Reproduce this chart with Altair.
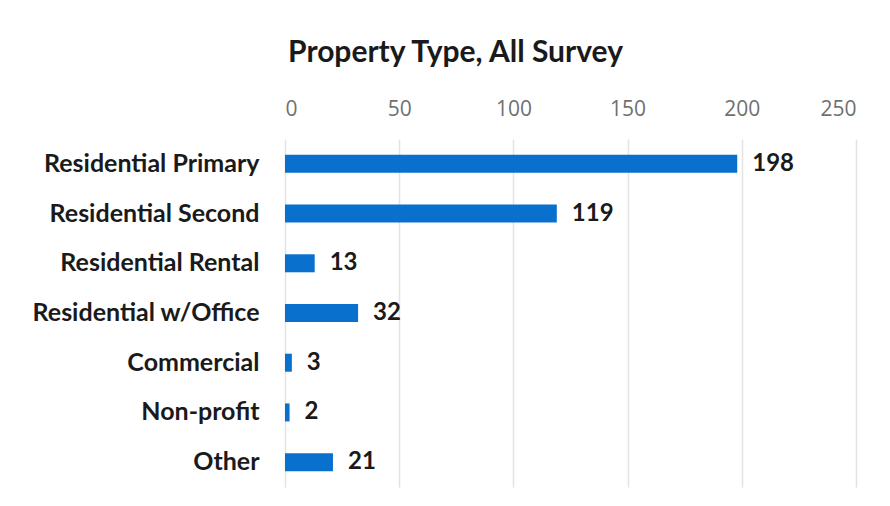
import altair as alt
import pandas as pd

categories = ["Residential Primary", "Residential Second", "Residential Rental",
              "Residential w/Office", "Commercial", "Non-profit", "Other"]
values = [198, 119, 13, 32, 3, 2, 21]
ticks = [0, 50, 100, 150, 200, 250]

df = pd.DataFrame({"category": categories, "count": values})

base = alt.Chart(df).encode(
    y=alt.Y("category:N", sort=categories, title=None,
            axis=alt.Axis(labelFont="Lato", labelFontWeight="bold", labelFontSize=25,
                          labelColor="#1a1a1a", labelPadding=26, ticks=False,
                          labelLimit=400, domain=False, grid=False)),
)

bars = base.mark_bar(color="#0A70CE", size=18).encode(
    x=alt.X("count:Q", scale=alt.Scale(domain=[0, 250], nice=False), title=None,
            axis=alt.Axis(orient="top", values=ticks, labelFont="Open Sans",
                          labelFontSize=21, labelColor="#707070", labelPadding=20,
                          ticks=False, domain=False, grid=True, gridColor="#e2e2e8",
                          gridWidth=1.5)),
)

labels = base.mark_text(align="left", dx=15, font="Lato", fontWeight="bold",
                        fontSize=24, color="#1a1a1a").encode(
    x="count:Q",
    text="count:Q",
)

chart = (bars + labels).properties(
    width=571,
    height=348,
    autosize=alt.AutoSizeParams(type="none"),
    padding={"left": 277, "top": 131, "right": 10, "bottom": 4},
    title=alt.TitleParams("Property Type, All Survey", font="Lato", fontSize=30,
                          fontWeight="bold", color="#1a1a1a", anchor="middle",
                          frame="group", dx=-115, offset=30),
).configure_view(stroke=None)

chart.save("out.html", embed_options={"renderer": "svg", "actions": False})
